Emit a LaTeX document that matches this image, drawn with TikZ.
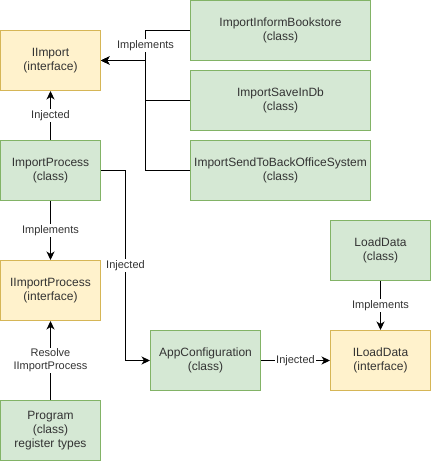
\documentclass[tikz,border=0pt]{standalone}
\usepackage{fontspec}
\setmainfont{Liberation Sans}
\usetikzlibrary{arrows.meta}
\definecolor{gfill}{HTML}{D5E8D4}
\definecolor{gline}{HTML}{82B366}
\definecolor{yfill}{HTML}{FFF2CC}
\definecolor{yline}{HTML}{D6B656}
\definecolor{txt}{HTML}{333333}
\begin{document}
\begin{tikzpicture}[x=1pt,y=-1pt,
  cls/.style={draw=gline, fill=gfill, line width=1pt, minimum width=100pt, minimum height=60pt,
    inner sep=0pt, align=center, font=\fontsize{12}{14}\selectfont, text=txt},
  ifc/.style={cls, draw=yline, fill=yfill},
  conn/.style={line width=1pt, -{Stealth[length=8.5pt,width=8pt,inset=2.5pt]}},
  lbl/.style={fill=white, inner sep=1pt, font=\fontsize{11}{13}\selectfont, align=center, text=txt}]
\useasboundingbox (0,0) rectangle (431,462);
\fill[white] (0,0) rectangle (431,462);

\node[ifc] (iimport) at (50.5,60.5) {IImport\\(interface)};
\node[cls, minimum width=180pt] (ibook) at (280.5,30.5) {ImportInformBookstore\\(class)};
\node[cls, minimum width=180pt] (isave) at (280.5,100.5) {ImportSaveInDb\\(class)};
\node[cls, minimum width=180pt] (isend) at (280.5,170.5) {ImportSendToBackOfficeSystem\\(class)};
\node[cls] (iproc) at (50.5,170.5) {ImportProcess\\(class)};
\node[ifc] (iiproc) at (50.5,290.5) {IImportProcess\\(interface)};
\node[cls] (prog) at (50.5,430.5) {Program\\(class)\\register types};
\node[cls, minimum width=110pt] (appc) at (205.5,360.5) {AppConfiguration\\(class)};
\node[cls] (loadd) at (380.5,250.5) {LoadData\\(class)};
\node[ifc] (iload) at (380.5,360.5) {ILoadData\\(interface)};

\coordinate (bus) at (145.5,60.5);
\coordinate (turn) at (125.5,265.5);

\draw[conn] (isave.west) -| (bus) -- (iimport.east);
\draw[conn] (isend.west) -| (bus) -- (iimport.east);
\draw[conn] (ibook.west) -| node[lbl, pos=0.75] {Implements} (bus) -- (iimport.east);

\draw[conn] (iproc.north) -- node[lbl] {Injected} (iimport.south);
\draw[conn] (iproc.south) -- node[lbl] {Implements} (iiproc.north);
\draw[conn] (iproc.east) -| (turn) node[lbl] {Injected} |- (appc.west);
\draw[conn] (prog.north) -- node[lbl] {Resolve\\IImportProcess} (iiproc.south);
\draw[conn] (appc.east) -- node[lbl] {Injected} (iload.west);
\draw[conn] (loadd.south) -- node[lbl] {Implements} (iload.north);
\end{tikzpicture}
\end{document}
